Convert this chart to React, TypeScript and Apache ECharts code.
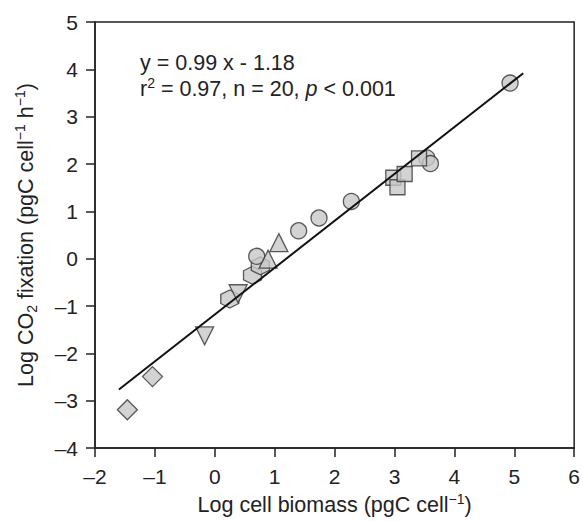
import React, { useEffect, useRef } from "react";
import * as echarts from "echarts";

// Data (Log cell biomass, Log CO2 fixation)
const diamondPts: [number, number][] = [[-1.46, -3.19], [-1.04, -2.49]];
const downTriPts: [number, number][] = [[-0.17, -1.63], [0.39, -0.74]];
const hexPts: [number, number][] = [[0.25, -0.85], [0.63, -0.35], [0.76, -0.15]];
const circlePts: [number, number][] = [[0.70, 0.05], [1.40, 0.59], [1.74, 0.86], [2.28, 1.21], [3.54, 2.13], [3.60, 2.01], [4.93, 3.71]];
const upTriPts: [number, number][] = [[0.89, -0.01], [1.07, 0.34]];
const squarePts: [number, number][] = [[2.98, 1.71], [3.05, 1.51], [3.17, 1.79], [3.41, 2.12]];

const slope = 0.99;
const intercept = -1.18;
const fitRange = [-1.6, 5.15];

const xTicks = [-2, -1, 0, 1, 2, 3, 4, 5, 6];
const yTicks = [-4, -3, -2, -1, 0, 1, 2, 3, 4, 5];

const FONT = "'Liberation Sans', Arial, Helvetica, sans-serif";
const FILL = "#c8c8c8";
const EDGE = "#333333";

const HEX = "path://M0,-1 L0.866,-0.5 L0.866,0.5 L0,1 L-0.866,0.5 L-0.866,-0.5 Z";
const DOWN_TRI = "path://M-1,-0.87 L1,-0.87 L0,0.87 Z";

export default function App() {
  const ref = useRef<HTMLDivElement>(null);
  useEffect(() => {
    if (!ref.current) return;
    const chart = echarts.init(ref.current, undefined, { renderer: "svg" });
    const itemStyle = { color: FILL, borderColor: EDGE, borderWidth: 1.3 };
    const sc = (name: string, data: [number, number][], symbol: string, size: number) => ({
      type: "scatter",
      name,
      data,
      symbol,
      symbolSize: size,
      itemStyle,
      emphasis: { disabled: true },
    });
    const supStyle = { fontSize: 14, fontFamily: FONT, color: "#222", padding: [0, 0, 12, 0] };
    const subStyle = { fontSize: 14, fontFamily: FONT, color: "#222", padding: [11, 0, 0, 0] };
    const fmt = (v: number) => (v < 0 ? "\u2013" + Math.abs(v) : String(v));
    chart.setOption({
      animation: false,
      grid: {
        left: 95,
        right: 4,
        top: 22,
        bottom: 66,
        show: true,
        borderColor: "#222",
        borderWidth: 1.5,
      },
      xAxis: {
        type: "value",
        min: xTicks[0],
        max: xTicks[xTicks.length - 1],
        interval: 1,
        splitLine: { show: false },
        axisLine: { show: true, onZero: false, lineStyle: { color: "#222", width: 1.5 } },
        axisTick: { show: true, length: 9, lineStyle: { color: "#222", width: 1.5 } },
        axisLabel: { fontSize: 21, fontFamily: FONT, color: "#222", margin: 18, formatter: fmt },
        name: "Log cell biomass (pgC cell{sup|\u22121})",
        nameLocation: "middle",
        nameGap: 39,
        nameTextStyle: {
          fontSize: 21.5,
          fontFamily: FONT,
          color: "#222",
          rich: { sup: supStyle },
        },
      },
      yAxis: {
        type: "value",
        min: yTicks[0],
        max: yTicks[yTicks.length - 1],
        interval: 1,
        splitLine: { show: false },
        axisLine: { show: true, onZero: false, lineStyle: { color: "#222", width: 1.5 } },
        axisTick: { show: true, length: 9, lineStyle: { color: "#222", width: 1.5 } },
        axisLabel: { fontSize: 21, fontFamily: FONT, color: "#222", margin: 17, formatter: fmt },
        name: "Log CO{sub|2} fixation (pgC cell{sup|\u22121} h{sup|\u22121})",
        nameLocation: "middle",
        nameRotate: 90,
        nameGap: 56,
        nameTextStyle: {
          fontSize: 21.5,
          fontFamily: FONT,
          color: "#222",
          rich: { sup: supStyle, sub: subStyle },
        },
      },
      graphic: [
        {
          type: "text",
          left: 140,
          top: 50,
          style: {
            text: "y = 0.99 x - 1.18\nr{sup|2} = 0.97, n = 20, {it|p} < 0.001",
            fontSize: 21.5,
            fontFamily: FONT,
            fill: "#222",
            lineHeight: 26,
            rich: {
              sup: { fontSize: 14, fontFamily: FONT, fill: "#222", padding: [0, 0, 12, 0] },
              it: { fontSize: 21.5, fontFamily: FONT, fontStyle: "italic", fill: "#222" },
            },
          },
        },
      ],
      series: [
        sc("hexagon", hexPts, HEX, 18),
        sc("circle", circlePts, "circle", 16),
        sc("diamond", diamondPts, "diamond", 20),
        sc("down", downTriPts, DOWN_TRI, 18),
        sc("up", upTriPts, "triangle", 18),
        sc("square", squarePts, "rect", 15),
        {
          type: "line",
          data: fitRange.map((x) => [x, slope * x + intercept]),
          symbol: "none",
          lineStyle: { color: "#111", width: 2 },
          z: 5,
        },
      ],
    });
    return () => chart.dispose();
  }, []);
  return (
    <div
      ref={ref}
      style={{ position: "absolute", left: 0, top: 0, width: 583, height: 521 }}
    />
  );
}
